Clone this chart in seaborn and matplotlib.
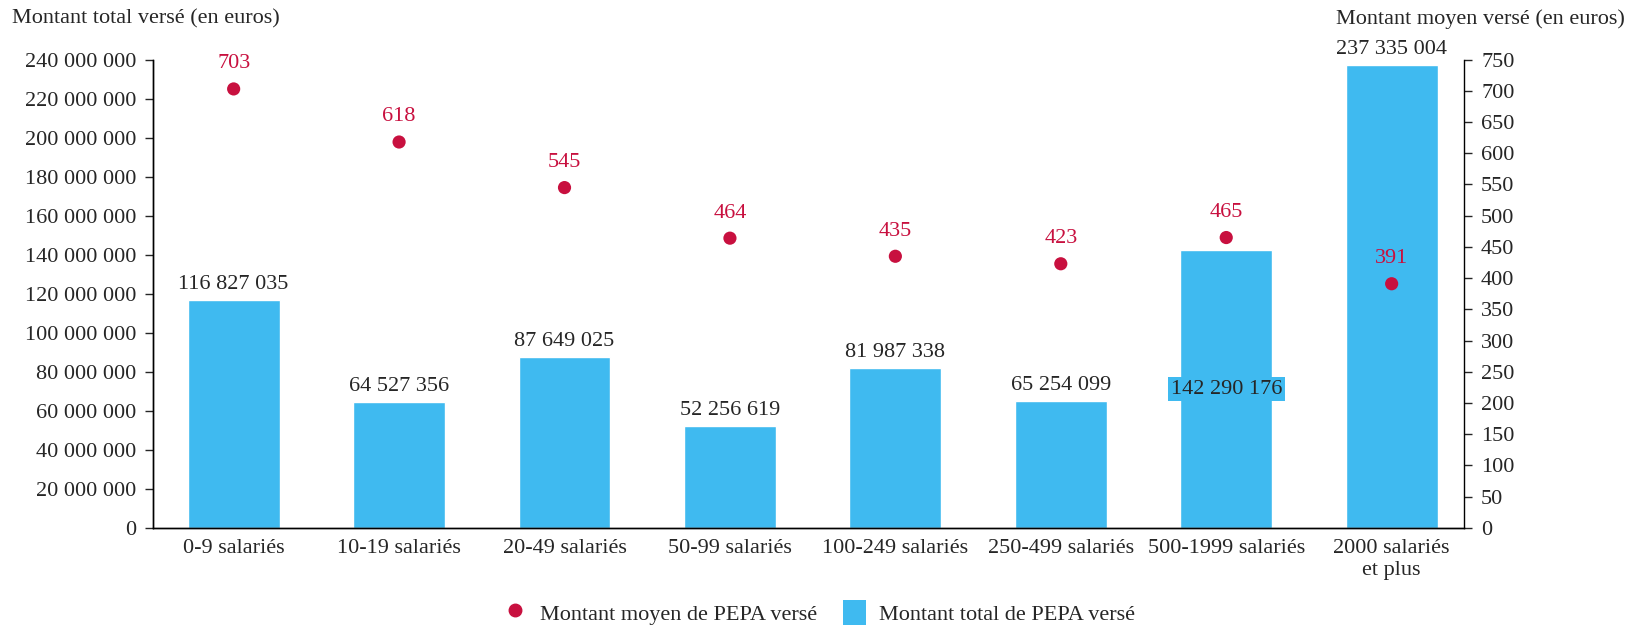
import seaborn as sns
import pandas as pd
from matplotlib import pyplot as plt
from matplotlib.lines import Line2D
from matplotlib.patches import Patch

categories = ["0-9 salariés", "10-19 salariés", "20-49 salariés", "50-99 salariés",
              "100-249 salariés", "250-499 salariés", "500-1999 salariés",
              "2000 salariés\net plus"]
total_verse = [116827035, 64527356, 87649025, 52256619,
               81987338, 65254099, 142290176, 237335004]
moyen_verse = [703, 618, 545, 464, 435, 423, 465, 391]

blue = "#3FBAF0"
red = "#C8103F"

sns.set_style("white")
plt.rcParams["font.family"] = ["Liberation Serif", "DejaVu Serif"]
fs = 16
plt.rcParams["font.size"] = fs


def fmt(v):
    return f"{v:,.0f}".replace(",", " ")


df = pd.DataFrame({"cat": categories, "total": total_verse, "moyen": moyen_verse})

fig = plt.figure(figsize=(16.39, 6.38), dpi=100)
ax = fig.add_axes([0.0931, 0.1726, 0.8004, 0.734])

sns.barplot(data=df, x="cat", y="total", color=blue, saturation=1, width=0.555, ax=ax)
ax.set_ylim(0, 240e6)
ax.set_xlim(-0.49, 7.44)
ax.set_yticks(range(0, 240000001, 20000000))
ax.set_yticklabels([fmt(v) for v in range(0, 240000001, 20000000)])
ax.set_xlabel("")
ax.set_ylabel("")
ax.tick_params(axis="x", length=0, pad=8, labelsize=fs)
ax.tick_params(axis="y", length=6, width=1, direction="out", left=True, pad=6, labelsize=fs)

# bar value labels
for i, v in enumerate(total_verse):
    if i == 6:
        ax.text(i, v / 2, fmt(v), ha="center", va="center", fontsize=fs,
                bbox=dict(facecolor=blue, edgecolor="none", pad=2))
    else:
        ax.text(i, v + 3e6, fmt(v), ha="center", va="bottom", fontsize=fs)

ax2 = ax.twinx()
sns.scatterplot(data=df, x="cat", y="moyen", color=red, s=90, edgecolor="none", ax=ax2,
                zorder=5)
ax2.set_ylim(0, 750)
ax2.set_yticks(range(0, 751, 50))
ax2.set_ylabel("")
ax2.tick_params(axis="y", length=6, width=1, direction="out", right=True, pad=6, labelsize=fs)
for i, v in enumerate(moyen_verse):
    ax2.text(i, v + 25, str(v), ha="center", va="bottom", color=red, fontsize=fs)

for a in (ax, ax2):
    a.spines["top"].set_visible(False)
    for s in ("left", "right", "bottom"):
        a.spines[s].set_color("black")
        a.spines[s].set_linewidth(1)
ax.spines["right"].set_visible(False)

fig.text(0.0073, 0.97, "Montant total versé (en euros)", ha="left", va="center", fontsize=fs)
fig.text(0.9915, 0.97, "Montant moyen versé (en euros)", ha="right", va="center", fontsize=fs)

handles = [Line2D([], [], marker="o", color=red, linestyle="none", markersize=9),
           Patch(facecolor=blue, edgecolor="none")]
fig.legend(handles, ["Montant moyen de PEPA versé", "Montant total de PEPA versé"],
           loc="center", bbox_to_anchor=(0.5, 0.04), ncol=2, frameon=False,
           fontsize=fs, handlelength=1.0, handleheight=1.4, handletextpad=0.6,
           columnspacing=1.2)

fig.savefig("out.png", dpi=100)
